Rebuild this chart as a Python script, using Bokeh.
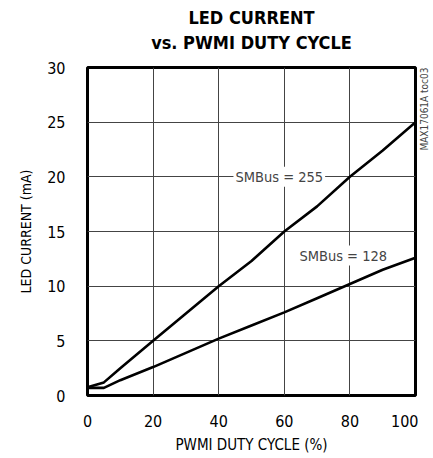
import math
from bokeh.plotting import figure
from bokeh.models import Label, FixedTicker, Range1d, Title
from bokeh.layouts import row
from bokeh.embed import file_html
from bokeh.resources import INLINE

duty = [0, 5, 10, 20, 30, 40, 50, 60, 70, 80, 90, 100]
smbus_255 = [0.75, 1.2, 2.5, 5.0, 7.5, 10.0, 12.3, 15.0, 17.3, 20.0, 22.4, 25.0]
duty_128 = [0, 5, 10, 20, 30, 40, 50, 60, 70, 80, 90, 100]
smbus_128 = [0.7, 0.7, 1.4, 2.6, 3.9, 5.2, 6.4, 7.6, 8.9, 10.2, 11.5, 12.6]
x_ticks = [0, 20, 40, 60, 80, 100]
y_ticks = [0, 5, 10, 15, 20, 25, 30]

FONT = "DejaVu Sans Condensed, Liberation Sans, sans-serif"

p = figure(frame_width=328, frame_height=328, output_backend="svg", toolbar_location=None,
           title=None, x_range=Range1d(0, 100), y_range=Range1d(0, 30),
           min_border_left=87, min_border_right=3, min_border_top=67, min_border_bottom=60)

# blank spacer between frame and the title lines
spacer = Title(text=" ", text_font=FONT, text_font_size="8px", text_color="white",
               standoff=2, align="center")
t2 = Title(text="vs. PWMI DUTY CYCLE", align="center", text_font=FONT, text_font_size="18px",
           text_font_style="bold", text_color="black", standoff=4)
t1 = Title(text="LED CURRENT", align="center", text_font=FONT, text_font_size="18px",
           text_font_style="bold", text_color="black", standoff=0)
p.add_layout(spacer, "above")
p.add_layout(t2, "above")
p.add_layout(t1, "above")

p.outline_line_color = "black"
p.outline_line_width = 3
p.background_fill_color = "white"
p.border_fill_color = "white"

p.xaxis.ticker = FixedTicker(ticks=x_ticks)
p.yaxis.ticker = FixedTicker(ticks=y_ticks)
for ax in (p.xaxis[0], p.yaxis[0]):
    ax.axis_line_color = None
    ax.major_tick_line_color = None
    ax.minor_tick_line_color = None
    ax.major_label_text_font = FONT
    ax.major_label_text_font_size = "16px"
    ax.major_label_text_color = "black"
    ax.axis_label_text_font = FONT
    ax.axis_label_text_font_style = "normal"
    ax.axis_label_text_color = "black"
p.xaxis.axis_label_text_font_size = "15px"
p.yaxis.axis_label_text_font_size = "14px"
p.xaxis.major_label_standoff = 13
p.yaxis.major_label_standoff = 16
p.xaxis.axis_label = "PWMI DUTY CYCLE (%)"
p.yaxis.axis_label = "LED CURRENT (mA)"
p.xaxis.axis_label_standoff = 6
p.yaxis.axis_label_standoff = 10

p.xgrid.grid_line_color = "#444444"
p.ygrid.grid_line_color = "#444444"
p.xgrid.grid_line_width = 1
p.ygrid.grid_line_width = 1

p.line(duty, smbus_255, line_color="black", line_width=2.6)
p.line(duty_128, smbus_128, line_color="black", line_width=2.6)

p.add_layout(Label(x=44.5, y=20.0, text="SMBus = 255", text_font=FONT, text_font_size="14.5px",
                   text_baseline="middle", text_align="left", background_fill_color="white",
                   padding=2))
p.add_layout(Label(x=64, y=12.8, text="SMBus = 128", text_font=FONT, text_font_size="14.5px",
                   text_baseline="middle", text_align="left", background_fill_color="white",
                   padding=2))

# side strip carrying the vertical code text (its frame aligns with the main frame)
side = figure(width=14, height=455, output_backend="svg", toolbar_location=None,
              title=None, x_range=Range1d(0, 14), y_range=Range1d(0, 30),
              min_border_left=0, min_border_right=0, min_border_top=0, min_border_bottom=0)
side.axis.visible = False
side.grid.visible = False
side.outline_line_color = None
side.add_layout(Label(x=6, y=30, x_units="screen", y_units="data", text="MAX17061A toc03",
                      text_font=FONT, text_font_size="10px", angle=math.pi / 2,
                      text_align="right", text_baseline="middle"))

layout = row(p, side, spacing=0)
open("out.html", "w").write(file_html(layout, INLINE))
